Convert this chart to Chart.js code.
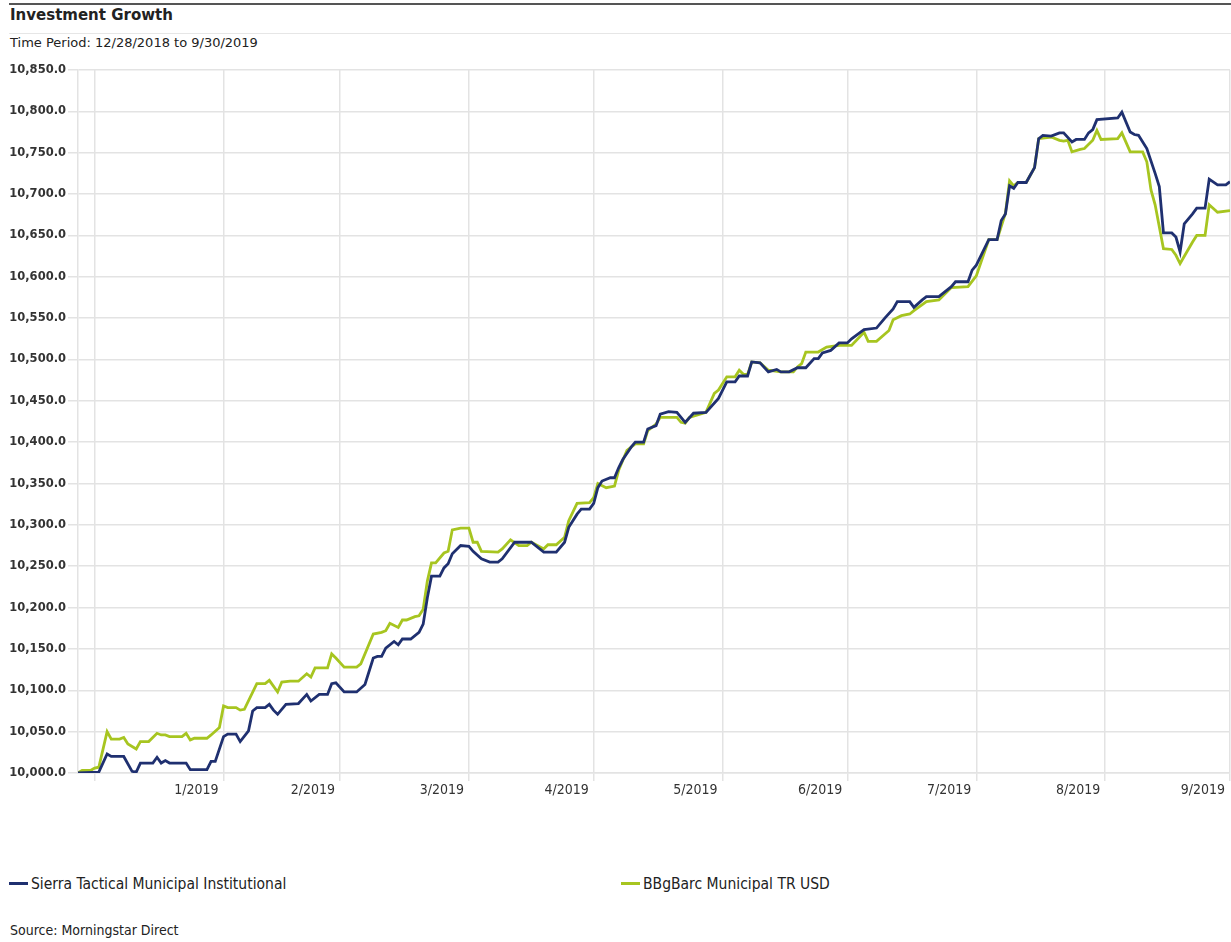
<!DOCTYPE html>
<html>
<head>
<meta charset="utf-8">
<script src="https://cdn.jsdelivr.net/npm/chart.js@4.4.0/dist/chart.umd.min.js"></script>
<style>
body { margin: 0; background: #fff; width: 1231px; height: 942px; overflow: hidden; position: relative; font-family: "DejaVu Sans", sans-serif; color: #222; }
.rule { position: absolute; left: 9px; right: 0; top: 3px; height: 2px; background: #555; }
.title { position: absolute; left: 10px; top: 6px; font-size: 15px; font-weight: bold; }
.sub-rule { position: absolute; left: 9px; right: 0; top: 33px; height: 1px; background: #e6e6e6; }
.period { position: absolute; left: 10px; top: 35px; font-size: 13px; }
#wrap { position: absolute; left: 0; top: 60px; width: 1231px; height: 740px; }
.leg { position: absolute; font-family: "DejaVu Sans Condensed", sans-serif; font-size: 15.5px; line-height: 18px; white-space: nowrap; }
.sw { display: inline-block; width: 19px; height: 3px; vertical-align: middle; margin-right: 3px; position: relative; top: -1px; }
.source { position: absolute; left: 10px; top: 922px; font-family: "DejaVu Sans Condensed", sans-serif; font-size: 14px; }
</style>
</head>
<body>
<div class="rule"></div>
<div class="title">Investment Growth</div>
<div class="sub-rule"></div>
<div class="period">Time Period: 12/28/2018 to 9/30/2019</div>
<div id="wrap"><canvas id="growthChart"></canvas></div>
<div class="leg" style="left:9px;top:875px"><span class="sw" style="background:#1f3070"></span>Sierra Tactical Municipal Institutional</div>
<div class="leg" style="left:621px;top:875px"><span class="sw" style="background:#a7c520"></span>BBgBarc Municipal TR USD</div>
<div class="source">Source: Morningstar Direct</div>
<script>
// x = calendar days after 12/28/2018
const monthEnds = [3, 34, 62, 93, 123, 154, 184, 215, 246, 276];
const monthLabels = ['', '1/2019', '2/2019', '3/2019', '4/2019', '5/2019', '6/2019', '7/2019', '8/2019', '9/2019'];

const sierraDays = [
    -1, 4, 6, 7, 10, 12, 13, 14, 17, 18,
    19, 20, 21, 25, 26, 30, 31, 32, 34, 35,
    37, 38, 40, 41, 42, 44, 45, 46, 47, 49,
    52, 54, 55, 57, 59, 60, 61, 63, 66, 68,
    70, 71, 72, 73, 75, 76, 77, 79, 81, 82,
    83, 84, 86, 87, 88, 89, 91, 93, 94, 96,
    98, 100, 101, 104, 108, 111, 114, 116, 117, 119,
    120, 122, 123, 124, 125, 127, 128, 129, 130, 132,
    133, 135, 136, 138, 139, 141, 143, 145, 147, 150,
    153, 155, 157, 158, 160, 161, 163, 165, 167, 168,
    170, 172, 174, 176, 177, 178, 180, 182, 184, 185,
    188, 191, 193, 195, 196, 199, 200, 202, 203, 206,
    209, 210, 213, 214, 215, 218, 220, 221, 222, 223,
    224, 225, 227, 228, 229, 230, 231, 233, 235, 236,
    238, 239, 241, 242, 243, 244, 249, 250, 252, 253,
    254, 256, 258, 259, 260, 262, 263, 264, 265, 267,
    268, 270, 271, 273, 275, 276
];
const sierraValues = [
    10000, 10001, 10023, 10020, 10020, 10002, 10001, 10012, 10012, 10019,
    10012, 10015, 10012, 10012, 10004, 10004, 10014, 10014, 10044, 10047,
    10047, 10038, 10051, 10075, 10079, 10079, 10083, 10076, 10071, 10083,
    10084, 10095, 10087, 10095, 10095, 10108, 10109, 10098, 10098, 10107,
    10139, 10141, 10141, 10151, 10159, 10155, 10162, 10162, 10170, 10180,
    10212, 10238, 10238, 10248, 10253, 10265, 10275, 10274, 10268, 10259,
    10255, 10255, 10259, 10279, 10279, 10267, 10267, 10279, 10297, 10313,
    10319, 10319, 10326, 10345, 10353, 10357, 10357, 10369, 10379, 10394,
    10400, 10400, 10416, 10420, 10434, 10437, 10436, 10424, 10435, 10436,
    10453, 10473, 10473, 10480, 10480, 10497, 10496, 10485, 10488, 10485,
    10485, 10490, 10490, 10501, 10501, 10508, 10511, 10520, 10520, 10525,
    10536, 10538, 10550, 10561, 10570, 10570, 10563, 10572, 10576, 10576,
    10588, 10594, 10594, 10608, 10614, 10645, 10645, 10668, 10676, 10710,
    10707, 10714, 10714, 10723, 10732, 10767, 10771, 10770, 10774, 10774,
    10763, 10766, 10766, 10774, 10778, 10790, 10792, 10799, 10775, 10772,
    10771, 10755, 10725, 10709, 10653, 10653, 10648, 10630, 10664, 10676,
    10683, 10683, 10718, 10711, 10711, 10715
];

const bbgDays = [
    -1, 0, 2, 3, 4, 6, 7, 9, 10, 11,
    13, 14, 16, 18, 19, 20, 21, 24, 25, 26,
    27, 30, 31, 33, 34, 35, 37, 38, 39, 42,
    44, 45, 47, 48, 50, 52, 54, 55, 56, 59,
    60, 61, 63, 66, 67, 70, 72, 73, 74, 76,
    77, 78, 80, 81, 82, 83, 84, 85, 87, 88,
    89, 91, 93, 94, 95, 96, 100, 101, 103, 105,
    107, 108, 111, 112, 114, 116, 117, 119, 122, 123,
    124, 126, 128, 129, 131, 133, 135, 136, 138, 139,
    143, 144, 145, 146, 150, 152, 153, 155, 157, 158,
    159, 160, 161, 163, 165, 168, 171, 172, 173, 174,
    177, 179, 182, 185, 188, 189, 191, 194, 195, 197,
    199, 200, 203, 206, 209, 213, 215, 218, 220, 222,
    223, 224, 225, 227, 229, 230, 233, 235, 236, 237,
    238, 240, 241, 243, 244, 245, 249, 250, 252, 255,
    256, 257, 258, 260, 262, 263, 264, 267, 268, 270,
    271, 273, 276
];
const bbgValues = [
    10000, 10003, 10003, 10006, 10007, 10050, 10041, 10041, 10043, 10035,
    10029, 10038, 10038, 10048, 10046, 10046, 10044, 10044, 10048, 10040,
    10042, 10042, 10046, 10055, 10081, 10079, 10079, 10076, 10077, 10108,
    10108, 10112, 10098, 10110, 10111, 10111, 10120, 10116, 10127, 10127,
    10144, 10139, 10128, 10128, 10132, 10168, 10170, 10172, 10181, 10176,
    10185, 10185, 10189, 10190, 10198, 10232, 10254, 10254, 10266, 10268,
    10294, 10296, 10296, 10279, 10279, 10268, 10267, 10271, 10282, 10275,
    10275, 10279, 10271, 10276, 10276, 10285, 10305, 10326, 10327, 10333,
    10350, 10345, 10347, 10366, 10390, 10398, 10398, 10414, 10422, 10430,
    10430, 10424, 10423, 10430, 10436, 10459, 10463, 10479, 10479, 10487,
    10482, 10482, 10497, 10496, 10487, 10485, 10485, 10491, 10495, 10509,
    10509, 10515, 10517, 10517, 10533, 10522, 10522, 10535, 10548, 10553,
    10555, 10559, 10570, 10572, 10587, 10588, 10601, 10645, 10645, 10677,
    10716, 10710, 10714, 10714, 10732, 10767, 10769, 10765, 10764, 10765,
    10751, 10754, 10755, 10765, 10777, 10766, 10767, 10774, 10751, 10751,
    10739, 10705, 10687, 10634, 10633, 10626, 10616, 10642, 10650, 10650,
    10687, 10678, 10680
];

const toPoints = (days, vals) => days.map((d, i) => ({ x: d, y: vals[i] }));
const gridColor = '#e3e3e3';

new Chart(document.getElementById('growthChart'), {
    type: 'line',
    data: {
        datasets: [
            { label: 'Sierra Tactical Municipal Institutional', data: toPoints(sierraDays, sierraValues), borderColor: '#1f3070', borderWidth: 2.8, pointRadius: 0, tension: 0 },
            { label: 'BBgBarc Municipal TR USD', data: toPoints(bbgDays, bbgValues), borderColor: '#a7c520', borderWidth: 2.8, pointRadius: 0, tension: 0 }
        ]
    },
    options: {
        responsive: true,
        maintainAspectRatio: false,
        animation: false,
        layout: { padding: { top: 10, right: 0, left: 0, bottom: 0 } },
        plugins: { legend: { display: false }, tooltip: { enabled: false } },
        scales: {
            x: {
                type: 'linear',
                min: -1,
                max: 276,
                afterBuildTicks: s => { s.ticks = monthEnds.map(v => ({ value: v })); },
                afterFit: s => { s.height = 27; },
                ticks: {
                    autoSkip: false,
                    maxRotation: 0,
                    align: 'end',
                    labelOffset: -5,
                    padding: 1,
                    color: '#333',
                    font: { family: 'DejaVu Sans Condensed', size: 14 },
                    callback: v => monthLabels[monthEnds.indexOf(v)]
                },
                grid: { color: gridColor, lineWidth: 1.5, tickLength: 8 },
                border: { color: gridColor, width: 1.5 }
            },
            y: {
                min: 10000,
                max: 10850,
                afterFit: s => { s.width = 78; },
                ticks: {
                    stepSize: 50,
                    padding: 2,
                    color: '#333',
                    font: { family: 'DejaVu Sans', size: 11.5, weight: 'bold' },
                    callback: v => v.toLocaleString('en-US', { minimumFractionDigits: 1, maximumFractionDigits: 1 })
                },
                grid: { color: gridColor, lineWidth: 1.5, tickLength: 10 },
                border: { color: gridColor, width: 1.5 }
            }
        }
    }
});
</script>
</body>
</html>
